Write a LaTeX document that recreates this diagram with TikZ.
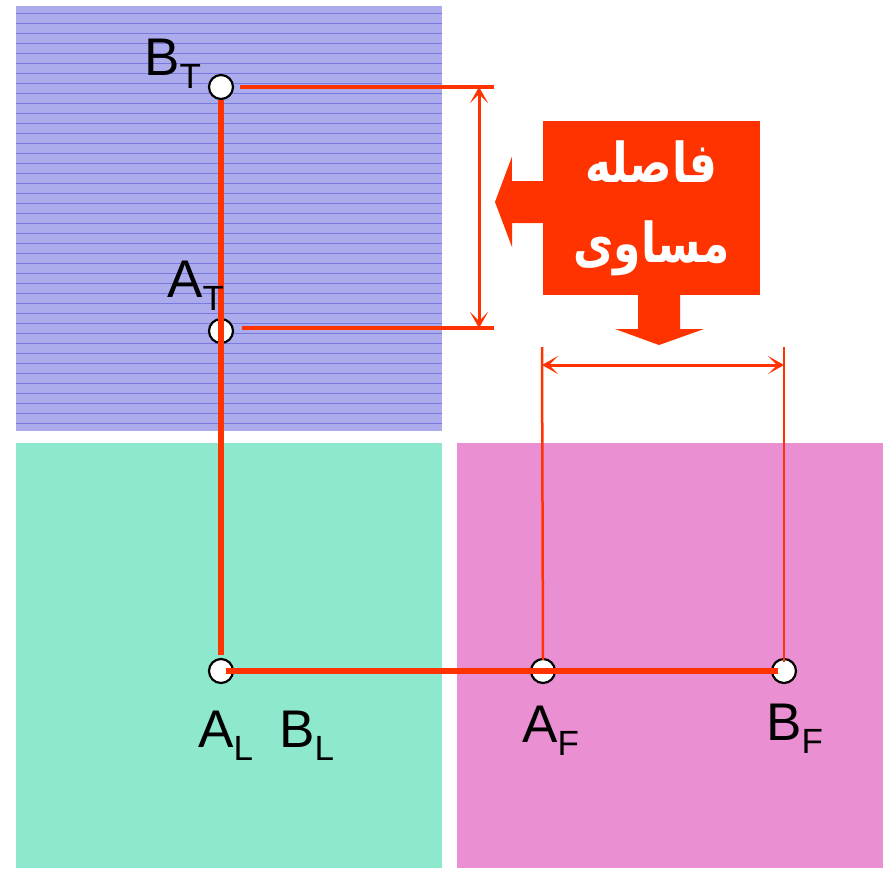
\documentclass[tikz,border=0pt]{standalone}
\usepackage{fontspec}
\setmainfont{Liberation Sans}
\newfontfamily\arabicfont[Script=Arabic,FakeStretch=0.8]{DejaVu Sans}
\TeXXeTstate=1
\usetikzlibrary{arrows.meta}
\definecolor{redline}{HTML}{FF3300}
\definecolor{topblue}{RGB}{172,172,236}
\definecolor{topstripe}{RGB}{120,120,222}
\definecolor{leftgreen}{RGB}{142,232,205}
\definecolor{frontpink}{RGB}{233,143,210}
\newcommand{\sublbl}[2]{#1\raisebox{-13pt}{\fontsize{35}{35}\selectfont #2}}
\tikzset{
  pnt/.style={circle, draw=black, line width=2.2pt, fill=white, minimum size=24pt, inner sep=0pt},
  edge/.style={redline, line width=6pt},
  ext/.style={redline, line width=3.5pt},
  thinext/.style={redline, line width=2.5pt},
  dimarrow/.style={redline, line width=3pt, {Stealth[length=16pt,width=18pt,inset=9pt]}-{Stealth[length=16pt,width=18pt,inset=9pt]}},
  lbl/.style={font=\fontsize{53}{53}\selectfont, inner sep=0pt, anchor=base west}
}
\begin{document}
\begin{tikzpicture}[x=1pt,y=-1pt]
  \useasboundingbox (0,0) rectangle (883,868);
  % Panels
  \fill[topblue] (16,6) rectangle (442,431);
  \foreach \y in {13,23,...,423}
    \draw[topstripe, line width=0.9pt] (16,\y) -- (442,\y);
  \fill[leftgreen] (16,443) rectangle (442,868);
  \fill[frontpink] (457,443) rectangle (883,868);
  % Points
  \node[pnt] (bT) at (221,87) {};
  \node[pnt] (aT) at (221,331) {};
  \node[pnt] (aL) at (221,671) {};
  \node[pnt] (aF) at (543,671) {};
  \node[pnt] (bF) at (784,671) {};
  % Projection lines
  \draw[edge] (bT.south) -- ([yshift=3pt]aL.north);
  \draw[edge] ([xshift=5pt]aL.center) -- ([xshift=-6pt]bF.center);
  % Equal distances
  \coordinate (tTop) at (494,87);
  \coordinate (tBot) at (494,328);
  \draw[ext] ([xshift=6pt]bT.east) -- (tTop);
  \draw[ext] ([xshift=8pt,yshift=3pt]aT.east) -- (tBot);
  \draw[dimarrow] (479,87) -- (479,328);
  \coordinate (fLeft) at (542,347);
  \coordinate (fRight) at (784,347);
  \draw[thinext] (fLeft) -- ([yshift=-2pt]aF.north);
  \draw[thinext] (fRight) -- ([yshift=-4pt]bF.north);
  \draw[dimarrow] (542,365) -- (784,365);
  % Callout
  \node[fill=redline, minimum width=217pt, minimum height=174pt, inner sep=0pt,
        text=white, align=center, font=\arabicfont\bfseries\fontsize{55}{80}\selectfont]
    (callout) at (651.5,208) {\beginR فاصله\endR\\\beginR مساوی\endR};
  \fill[redline] ([yshift=27pt]callout.west) -- ++(-31,0) -- ++(0,-24) -- (495,202)
    -- (512,247) -- ++(0,-24) -- ([yshift=-15pt]callout.west) -- cycle;
  \fill[redline] (638,294) -- (638,329) -- (615,329) -- (659,345) -- (704,329)
    -- (680,329) -- (680,294) -- cycle;
  % Labels
  \node[lbl] (lblBT) at (144,75) {\sublbl{B}{T}};
  \node[lbl] (lblAT) at (167,297) {\sublbl{A}{T}};
  \node[lbl] (lblAL) at (198,747) {\sublbl{A}{L}};
  \node[lbl] (lblBL) at (279,747) {\sublbl{B}{L}};
  \node[lbl] (lblAF) at (522,742) {\sublbl{A}{F}};
  \node[lbl] (lblBF) at (766,740) {\sublbl{B}{F}};
\end{tikzpicture}
\end{document}
